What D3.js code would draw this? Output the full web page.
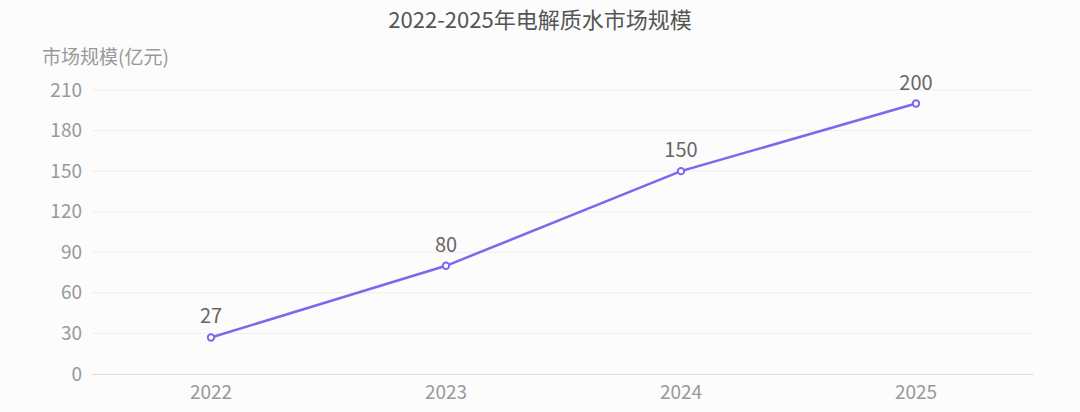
<!DOCTYPE html>
<html>
<head>
<meta charset="utf-8">
<script src="https://cdn.jsdelivr.net/npm/d3@7"></script>
<style>
  html, body { margin: 0; padding: 0; background: #fcfcfc; }
  svg { display: block; font-family: "Noto Sans CJK SC", "Noto Sans", sans-serif; }
</style>
</head>
<body>
<div id="chart"></div>
<script>
(function() {
  'use strict';

  // data
  const years = ['2022', '2023', '2024', '2025'];
  const marketSize = [27, 80, 150, 200];
  const yTicks = [0, 30, 60, 90, 120, 150, 180, 210];

  const width = 1080;
  const height = 412;
  const margin = { top: 90, right: 46, bottom: 38, left: 93 };
  const font = '"Noto Sans CJK SC", "Noto Sans", sans-serif';

  const svg = d3.select('#chart')
    .append('svg')
    .attr('width', width)
    .attr('height', height);

  svg.append('rect')
    .attr('width', width)
    .attr('height', height)
    .attr('fill', '#fcfcfc');

  const x = d3.scaleBand()
    .domain(years)
    .range([margin.left + 0.5, width - margin.right - 0.5]);

  const y = d3.scaleLinear()
    .domain([0, 210])
    .range([height - margin.bottom, margin.top]);

  // title
  svg.append('text')
    .attr('x', width / 2)
    .attr('y', 28)
    .attr('text-anchor', 'middle')
    .attr('fill', '#555')
    .attr('font-size', 22)
    .text('2022-2025年电解质水市场规模');

  // y axis name
  svg.append('text')
    .attr('x', 42)
    .attr('y', 64)
    .attr('fill', '#999')
    .attr('font-size', 19)
    .text('市场规模(亿元)');

  // gridlines
  svg.append('g')
    .selectAll('line')
    .data(yTicks.filter(d => d !== 0))
    .join('line')
    .attr('x1', margin.left - 1)
    .attr('x2', width - margin.right)
    .attr('y1', d => y(d))
    .attr('y2', d => y(d))
    .attr('stroke', '#eeeeee')
    .attr('stroke-width', 1);

  // y axis
  const yAxis = svg.append('g')
    .attr('transform', `translate(${margin.left - 1},0)`)
    .call(d3.axisLeft(y).tickValues(yTicks).tickSize(0).tickPadding(10));
  yAxis.select('.domain').remove();
  yAxis.selectAll('text')
    .attr('fill', '#999')
    .attr('font-size', 19)
    .attr('font-family', font);

  // x axis
  const xAxis = svg.append('g')
    .attr('transform', `translate(0,${height - margin.bottom})`)
    .call(d3.axisBottom(x).tickSize(0).tickPadding(12));
  xAxis.select('.domain')
    .attr('stroke', '#dddddd')
    .attr('d', `M${margin.left - 1},0.5H${width - margin.right}`);
  xAxis.selectAll('text')
    .attr('fill', '#999')
    .attr('font-size', 19)
    .attr('font-family', font);

  const points = years.map((yr, i) => ({ year: yr, value: marketSize[i] }));
  const cx = d => x(d.year) + x.bandwidth() / 2;

  const line = d3.line()
    .x(cx)
    .y(d => y(d.value));

  svg.append('path')
    .datum(points)
    .attr('fill', 'none')
    .attr('stroke', '#7b68ee')
    .attr('stroke-width', 2.5)
    .attr('d', line);

  svg.append('g')
    .selectAll('circle')
    .data(points)
    .join('circle')
    .attr('cx', cx)
    .attr('cy', d => y(d.value))
    .attr('r', 3.2)
    .attr('fill', '#fff')
    .attr('stroke', '#7b68ee')
    .attr('stroke-width', 2);

  svg.append('g')
    .selectAll('text')
    .data(points)
    .join('text')
    .attr('x', cx)
    .attr('y', d => y(d.value) - 14)
    .attr('text-anchor', 'middle')
    .attr('fill', '#666')
    .attr('font-size', 20)
    .text(d => d.value);
})();
</script>
</body>
</html>
